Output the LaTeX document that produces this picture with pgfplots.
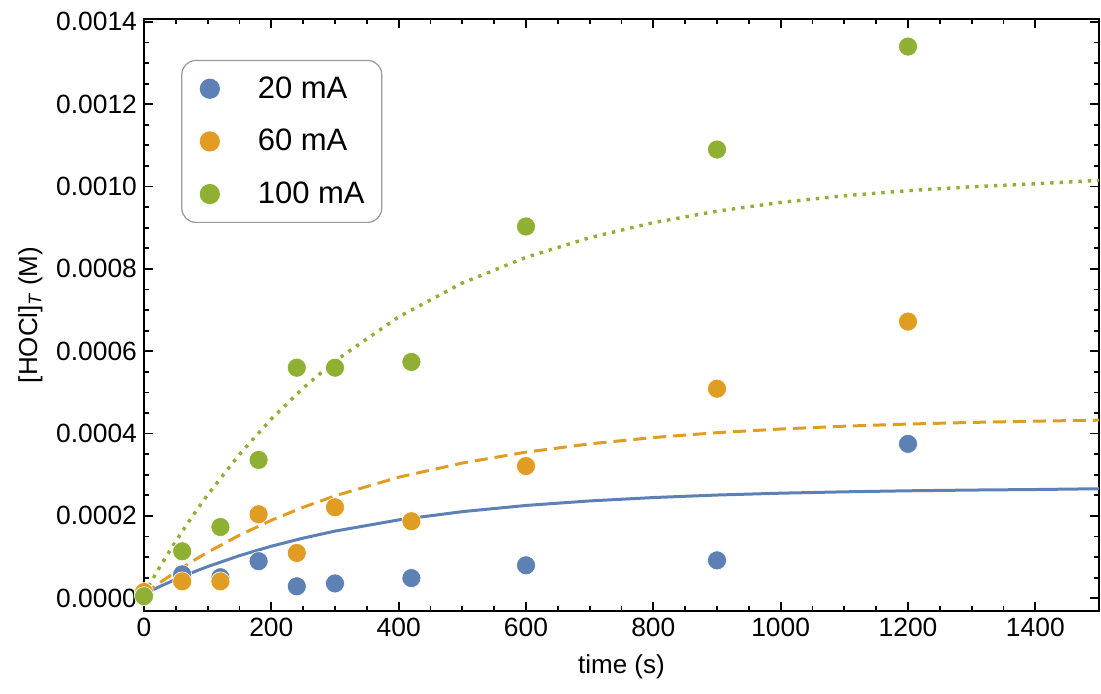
\documentclass[border=0pt]{standalone}
\usepackage{fontspec}
\setmainfont{Liberation Sans}
\usepackage{pgfplots}
\pgfplotsset{compat=1.18}
\usetikzlibrary{calc}

\definecolor{mblue}{RGB}{94,129,181}
\definecolor{morange}{RGB}{225,156,36}
\definecolor{mgreen}{RGB}{143,176,50}

\begin{document}
\begin{tikzpicture}
\begin{axis}[
    name=ax,
    scale only axis,
    width=477.5pt, height=296pt,
    xmin=0, xmax=1500,
    ymin=-0.000031, ymax=0.001407,
    xtick={0,200,...,1400},
    ytick={0,0.0002,0.0004,0.0006,0.0008,0.0010,0.0012,0.0014},
    minor x tick num=3,
    minor y tick num=3,
    scaled y ticks=false,
    tick align=inside,
    major tick length=4.5pt,
    minor tick length=2.5pt,
    every tick/.style={black, line width=0.9pt},
    axis line style={line width=1.3pt},
    /pgf/number format/assume math mode=true,
    yticklabel style={/pgf/number format/.cd, fixed, fixed zerofill, precision=4},
    xticklabel style={/pgf/number format/.cd, fixed, 1000 sep={}},
    tick label style={font=\fontsize{13.2}{15}\selectfont},
    xlabel={time (s)},
    ylabel={[HOCl]$_{\mathit{T}}$ (M)},
    label style={font=\fontsize{13}{15}\selectfont},
    xlabel style={at={(axis description cs:0.5,-0.095)}, anchor=center},
    ylabel style={at={(axis description cs:-0.119,0.5)}, anchor=center},
    legend style={
        at={(0.039,0.931)}, anchor=north west,
        draw=gray!80, line width=0.6pt, rounded corners=7pt,
        font=\fontsize{15.5}{18}\selectfont,
        row sep=10pt, inner xsep=6.5pt, inner ysep=6pt
    },
    legend cell align=left,
    legend image code/.code={
        \path[draw=none, fill=none] (-7.5pt,0pt) -- (22pt,0pt);
        \fill[#1] (0pt,0pt) circle (4.75pt);
    },
]

% fitted curves
\addplot[mblue, line width=1.5pt, forget plot] coordinates {
(0,0.0000100) (25,0.0000287) (50,0.0000459) (75,0.0000620) (100,0.0000769)
(150,0.0001035) (200,0.0001264) (250,0.0001461) (300,0.0001631) (400,0.0001903)
(500,0.0002104) (600,0.0002254) (700,0.0002364) (800,0.0002446) (900,0.0002507)
(1000,0.0002552) (1100,0.0002585) (1200,0.0002610) (1300,0.0002628) (1400,0.0002641)
(1500,0.0002660)
};
\addplot[morange, line width=1.5pt, dash pattern=on 6.5pt off 3.5pt, forget plot] coordinates {
(0,0.0000100) (25,0.0000381) (50,0.0000643) (75,0.0000888) (100,0.0001117)
(150,0.0001532) (200,0.0001894) (250,0.0002210) (300,0.0002487) (400,0.0002940)
(500,0.0003285) (600,0.0003549) (700,0.0003750) (800,0.0003904) (900,0.0004022)
(1000,0.0004111) (1100,0.0004179) (1200,0.0004231) (1300,0.0004271) (1400,0.0004302)
(1500,0.0004325)
};
\addplot[mgreen, line width=1.7pt, dash pattern=on 1.7pt off 3pt, forget plot] coordinates {
(0,0.0000100) (25,0.0000766) (50,0.0001388) (75,0.0001970) (100,0.0002513)
(150,0.0003497) (200,0.0004356) (250,0.0005106) (300,0.0005762) (400,0.0006836)
(500,0.0007656) (600,0.0008281) (700,0.0008759) (800,0.0009124) (900,0.0009402)
(1000,0.0009615) (1100,0.0009777) (1200,0.0009900) (1300,0.0009995) (1400,0.0010067)
(1500,0.0010150)
};

% measured points
\addplot[only marks, mark=*, mark size=4.75pt, mblue, mark options={draw=white, line width=0.3pt, fill=mblue}] coordinates {
(0,0.000010) (60,0.000058) (120,0.000051) (180,0.000090) (240,0.000029)
(300,0.000036) (420,0.000049) (600,0.000080) (900,0.000092) (1200,0.000375)
};
\addlegendentry{20 mA}
\addplot[only marks, mark=*, mark size=4.75pt, morange, mark options={draw=white, line width=0.3pt, fill=morange}] coordinates {
(0,0.000015) (60,0.000041) (120,0.000041) (180,0.000204) (240,0.000110)
(300,0.000221) (420,0.000187) (600,0.000321) (900,0.000509) (1200,0.000672)
};
\addlegendentry{60 mA}
\addplot[only marks, mark=*, mark size=4.75pt, mgreen, mark options={draw=white, line width=0.3pt, fill=mgreen}] coordinates {
(0,0.000005) (60,0.000114) (120,0.000173) (180,0.000336) (240,0.000560)
(300,0.000560) (420,0.000574) (600,0.000903) (900,0.001090) (1200,0.001340)
};
\addlegendentry{100 mA}
\end{axis}
\pgfresetboundingbox
\path[use as bounding box] ($(ax.south west)+(-72pt,-41pt)$) rectangle ($(ax.north east)+(1pt,9.5pt)$);
\end{tikzpicture}
\end{document}
